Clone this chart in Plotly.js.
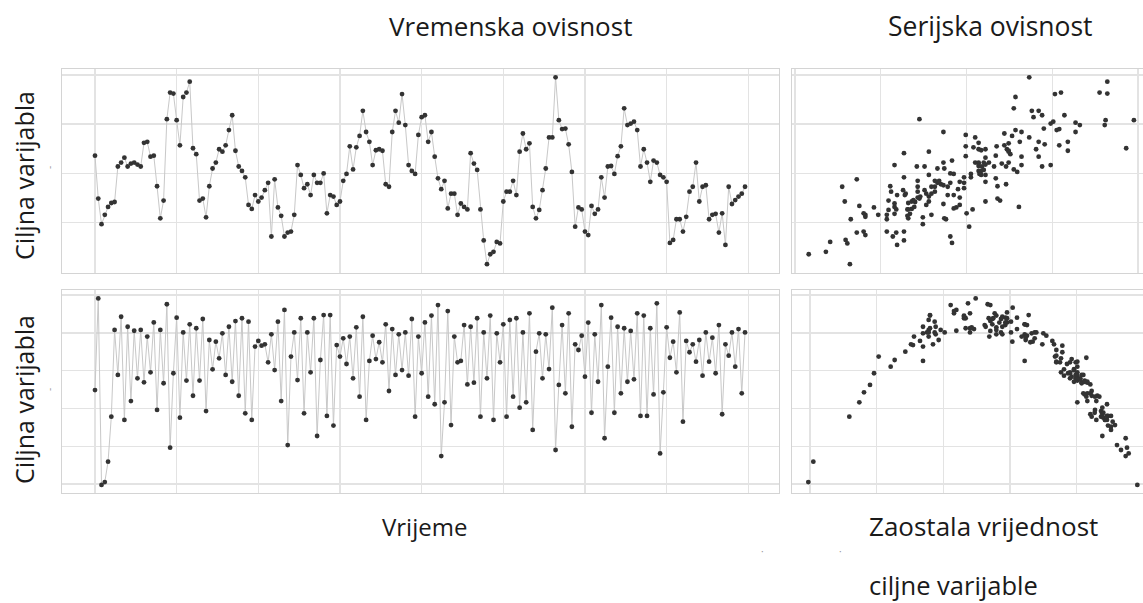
<!DOCTYPE html>
<html>
<head>
<meta charset="utf-8">
<script src="https://cdn.plot.ly/plotly-3.0.1.min.js"></script>
<style>
  html, body { margin: 0; padding: 0; background: #ffffff; }
  #chart { width: 1143px; height: 603px; }
</style>
</head>
<body>
<div id="chart"></div>
<script>
// ---- Data ----
// Upper series: "Vremenska ovisnost" (time dependence), t = 0..199
const timeDependentValues = [
  2.36, 1.49, 0.97, 1.16, 1.32, 1.40, 1.42, 2.14, 2.22, 2.32,
  2.14, 2.20, 2.22, 2.18, 2.14, 2.62, 2.64, 2.34, 2.36, 1.74,
  1.09, 1.45, 3.10, 3.64, 3.62, 3.08, 2.57, 3.55, 3.64, 3.86,
  2.51, 2.39, 1.45, 1.49, 1.11, 1.74, 2.10, 2.22, 2.49, 2.44,
  2.57, 2.88, 3.18, 2.46, 2.14, 2.05, 1.92, 1.36, 1.28, 1.56,
  1.43, 1.51, 1.66, 1.81, 0.72, 1.88, 1.31, 1.14, 0.72, 0.80,
  0.82, 1.16, 2.17, 1.97, 1.70, 1.78, 1.56, 1.97, 1.81, 1.81,
  2.00, 1.19, 1.56, 1.53, 1.36, 1.43, 1.85, 1.99, 2.55, 2.08,
  2.53, 2.76, 3.27, 2.84, 2.64, 2.17, 2.47, 2.49, 2.46, 1.78,
  1.73, 2.84, 3.27, 3.03, 3.61, 2.98, 2.17, 2.05, 1.99, 2.78,
  3.14, 3.18, 2.64, 2.84, 2.34, 1.90, 1.68, 1.85, 1.29, 1.59,
  1.59, 1.16, 1.39, 1.32, 1.27, 2.41, 2.20, 2.07, 1.27, 0.64,
  0.16, 0.36, 0.41, 0.61, 0.58, 1.43, 1.63, 1.63, 1.85, 1.56,
  2.44, 2.81, 2.49, 2.61, 1.32, 1.09, 1.26, 1.66, 2.10, 2.73,
  2.73, 3.95, 3.08, 2.90, 2.91, 2.59, 2.03, 0.92, 1.31, 1.27,
  0.82, 0.75, 1.34, 1.18, 1.27, 1.92, 1.51, 2.14, 2.15, 1.99,
  2.35, 2.55, 3.32, 2.98, 3.01, 3.05, 2.88, 2.14, 2.49, 2.22,
  1.83, 2.26, 2.22, 1.97, 1.92, 1.83, 0.59, 0.65, 1.07, 1.07,
  0.82, 1.12, 1.63, 1.73, 2.22, 1.43, 1.73, 1.76, 1.07, 1.16,
  1.18, 0.80, 1.19, 0.55, 1.73, 1.38, 1.46, 1.53, 1.59, 1.73
];

// Lower series: serially dependent (chaotic) series, t = 0..199
const serialDependentValues = [
  0.497, 0.982, -0.005, 0.010, 0.118, 0.356, 0.815, 0.577, 0.885, 0.339,
  0.832, 0.439, 0.811, 0.559, 0.815, 0.538, 0.780, 0.591, 0.855, 0.392,
  0.815, 0.533, 0.951, 0.192, 0.586, 0.880, 0.351, 0.802, 0.547, 0.845,
  0.467, 0.824, 0.547, 0.873, 0.386, 0.762, 0.607, 0.753, 0.665, 0.797,
  0.577, 0.832, 0.541, 0.862, 0.467, 0.877, 0.374, 0.859, 0.339, 0.727,
  0.757, 0.732, 0.739, 0.644, 0.792, 0.603, 0.859, 0.439, 0.921, 0.206,
  0.674, 0.802, 0.550, 0.877, 0.374, 0.802, 0.591, 0.877, 0.254, 0.656,
  0.894, 0.360, 0.894, 0.309, 0.735, 0.674, 0.771, 0.635, 0.780, 0.559,
  0.829, 0.462, 0.885, 0.339, 0.651, 0.785, 0.661, 0.750, 0.644, 0.845,
  0.492, 0.820, 0.577, 0.792, 0.603, 0.802, 0.573, 0.873, 0.356, 0.780,
  0.586, 0.855, 0.462, 0.891, 0.422, 0.947, 0.148, 0.432, 0.915, 0.312,
  0.780, 0.644, 0.651, 0.841, 0.527, 0.832, 0.536, 0.877, 0.356, 0.802,
  0.559, 0.891, 0.339, 0.797, 0.644, 0.845, 0.356, 0.868, 0.462, 0.877,
  0.404, 0.802, 0.432, 0.903, 0.286, 0.700, 0.797, 0.559, 0.792, 0.608,
  0.933, 0.180, 0.524, 0.841, 0.480, 0.903, 0.303, 0.739, 0.709, 0.785,
  0.568, 0.854, 0.377, 0.792, 0.541, 0.947, 0.242, 0.621, 0.880, 0.377,
  0.832, 0.480, 0.824, 0.541, 0.810, 0.554, 0.903, 0.360, 0.891, 0.360,
  0.824, 0.474, 0.956, 0.162, 0.485, 0.829, 0.668, 0.753, 0.591, 0.908,
  0.330, 0.757, 0.697, 0.739, 0.647, 0.762, 0.573, 0.802, 0.647, 0.774,
  0.586, 0.841, 0.369, 0.739, 0.679, 0.802, 0.621, 0.820, 0.480, 0.802
];

const timeIndex = timeDependentValues.map((_, i) => i);

// Texts
const titleTime = "Vremenska ovisnost";
const titleSerial = "Serijska ovisnost";
const xTitleTime = "Vrijeme";
const xTitleLag1 = "Zaostala vrijednost";
const xTitleLag2 = "ciljne varijable";
const yTitle = "Ciljna varijabla";

// Grid breaks
const timeBreaks = [0, 25, 50, 75, 100, 125, 150, 175, 200];
const upperBreaks = [0, 1, 2, 3, 4];
const lowerBreaks = [0, 0.2, 0.4, 0.6, 0.8, 1.0];

// lag plots built from the series
const lag = arr => ({ x: arr.slice(0, -1), y: arr.slice(1) });
const lagUpper = lag(timeDependentValues);
const lagLower = lag(serialDependentValues);

const pointColor = "#333333";
const lineColor = "#c8c8c8";
const gridColor = "#e3e3e3";
const borderColor = "#d4d4d4";
const markerSize = 4.8;

const traces = [
  { x: timeIndex, y: timeDependentValues, type: "scatter", mode: "lines+markers",
    line: { color: lineColor, width: 1 }, marker: { color: pointColor, size: markerSize },
    xaxis: "x", yaxis: "y" },
  { x: lagUpper.x, y: lagUpper.y, type: "scatter", mode: "markers",
    marker: { color: pointColor, size: markerSize }, xaxis: "x2", yaxis: "y2" },
  { x: timeIndex, y: serialDependentValues, type: "scatter", mode: "lines+markers",
    line: { color: lineColor, width: 1 }, marker: { color: pointColor, size: markerSize },
    xaxis: "x3", yaxis: "y3" },
  { x: lagLower.x, y: lagLower.y, type: "scatter", mode: "markers",
    marker: { color: pointColor, size: markerSize }, xaxis: "x4", yaxis: "y4" }
];

const W = 1143, H = 603;
const px = v => v / W;
const py = v => 1 - v / H;

function ax(domain, range, breaks, anchor) {
  return {
    domain: domain, range: range, anchor: anchor,
    tickmode: "array", tickvals: breaks, showticklabels: false, ticks: "",
    showgrid: true, gridcolor: gridColor, gridwidth: 1.4,
    zeroline: false, showline: true, mirror: true, linecolor: borderColor, linewidth: 1.2,
    fixedrange: true
  };
}

const leftX = [px(62), px(779)];
const rightX = [px(792), 1];
const topY = [py(273), py(69)];
const botY = [py(493), py(290)];

const fam = "Open Sans, DejaVu Sans, sans-serif";
const f = s => ({ family: fam, size: s, color: "#1a1a1a" });

function label(text, x, y, size, extra) {
  return Object.assign({ text: text, x: px(x), y: py(y), xref: "paper", yref: "paper",
    showarrow: false, font: f(size), xanchor: "center", yanchor: "middle" }, extra || {});
}

const layout = {
  width: W, height: H,
  margin: { l: 0, r: 0, t: 0, b: 0 },
  paper_bgcolor: "#ffffff", plot_bgcolor: "#ffffff",
  showlegend: false,
  xaxis: ax(leftX, [-10.1, 209.4], timeBreaks, "y"),
  yaxis: ax(topY, [-0.02, 4.118], upperBreaks, "x"),
  xaxis2: ax(rightX, [-0.035, 4.056], upperBreaks, "y2"),
  yaxis2: ax(topY, [-0.02, 4.118], upperBreaks, "x2"),
  xaxis3: ax(leftX, [-10.1, 209.4], timeBreaks, "y3"),
  yaxis3: ax(botY, [-0.0476, 1.0265], lowerBreaks, "x3"),
  xaxis4: ax(rightX, [-0.054, 0.999], lowerBreaks.slice(0, 5), "y4"),
  yaxis4: ax(botY, [-0.0476, 1.0265], lowerBreaks, "x4"),
  annotations: [
    label(titleTime, 510, 26, 26),
    label(titleSerial, 990, 26, 26.5),
    label(xTitleTime, 424, 526, 24),
    label(xTitleLag1, 983, 526, 26),
    label(xTitleLag2, 953, 585, 25.5),
    label(yTitle, 24, 176, 25, { textangle: -90 }),
    label(yTitle, 24, 400, 25, { textangle: -90 }),
    // small stray marks present in the reference picture
    label("-", 49, 168, 10, { textangle: -90, font: { family: fam, size: 10, color: "#9a9a9a" } }),
    label("-", 49, 390, 10, { textangle: -90, font: { family: fam, size: 10, color: "#9a9a9a" } }),
    label("·", 762, 551, 10, { font: { family: fam, size: 10, color: "#9a9a9a" } }),
    label("·", 840, 551, 10, { font: { family: fam, size: 10, color: "#9a9a9a" } })
  ]
};

Plotly.newPlot("chart", traces, layout, { staticPlot: true, displayModeBar: false });
</script>
</body>
</html>
